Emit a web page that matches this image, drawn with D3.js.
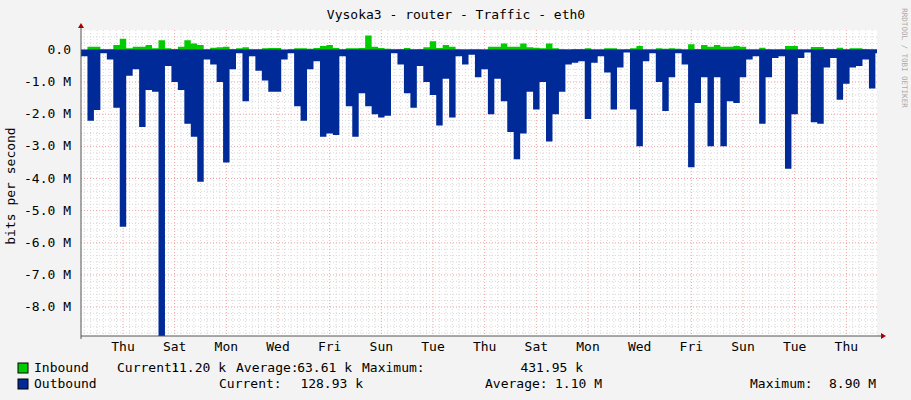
<!DOCTYPE html>
<html><head><meta charset="utf-8">
<script src="https://cdn.jsdelivr.net/npm/d3@7"></script>
<style>body{margin:0;background:#f3f3f3}svg{display:block;font-family:"DejaVu Sans Mono",monospace}</style>
</head><body><svg id="c" width="911" height="400"></svg>
<script>
// 3-hour bins, values in M bits/s
const inbound = [0,0.1,0.1,0.02,0.02,0.15,0.35,0.05,0.1,0.1,0.15,0.05,0.3,0.05,0.03,0.1,0.3,0.2,0.15,0.02,0.07,0.08,0.1,0.03,0.05,0.08,0.02,0.02,0.05,0.06,0.06,
0,0.02,0.05,0.05,0.04,0.06,0.12,0.15,0.06,0.02,0.05,0.05,0.06,0.45,0.1,0.06,0.04,0.02,0.03,0.06,0.02,0.03,0.08,0.27,0.06,0.15,0.1,0.02,0.01,0.02,0.02,
0.01,0.1,0.1,0.2,0.1,0.1,0.2,0.08,0.07,0.05,0.2,0.05,0.02,0.01,0.03,0.03,0.05,0.01,0.01,0.05,0.05,0.01,0.02,0.05,0.12,0.01,0.01,0.05,0.04,0.05,0.04,
0.01,0.18,0.03,0.15,0.1,0.15,0.1,0.1,0.12,0.1,0.01,0.01,0.07,0.02,0.01,0.02,0.12,0.12,0.01,0.01,0.09,0.09,0.03,0.03,0.07,0.02,0.05,0.05,0.03,0.02,0.02];
const outbound = [-0.2,-2.2,-1.87,-0.1,-0.3,-1.8,-5.5,-0.8,-0.6,-2.4,-1.25,-1.3,-8.9,-0.5,-1.0,-1.25,-2.3,-2.7,-4.1,-0.3,-0.45,-1.0,-3.5,-0.6,-0.1,-1.6,-0.2,-0.65,-0.95,-1.3,-1.3,
-0.3,-0.1,-1.75,-2.2,-0.6,-0.35,-2.7,-2.6,-2.65,-0.2,-1.75,-2.7,-1.35,-1.75,-2.0,-2.1,-2.05,-0.1,-0.45,-1.35,-1.8,-0.5,-1.0,-1.4,-2.35,-0.9,-2.1,-0.2,-0.45,-0.15,-0.85,
-0.6,-2.0,-0.9,-1.6,-2.55,-3.4,-2.6,-1.3,-1.85,-1.0,-2.85,-2.0,-1.3,-0.45,-0.4,-0.35,-2.15,-0.4,-0.2,-0.7,-1.85,-0.55,-0.05,-1.85,-3.0,-0.35,-0.1,-1.0,-1.9,-0.85,-0.1,
-0.45,-3.65,-1.65,-0.85,-3.0,-0.85,-3.0,-1.6,-1.65,-0.85,-0.3,-0.2,-2.3,-0.85,-0.25,-0.2,-3.7,-2.0,-0.25,-0.05,-2.25,-2.3,-0.55,-0.25,-1.55,-1.05,-0.55,-0.5,-0.3,-1.2,-0.1];
const dayLabels = ["Thu","Sat","Mon","Wed","Fri","Sun","Tue","Thu","Sat","Mon","Wed","Fri","Sun","Tue","Thu"];
const firstMidnightHour = 19.5, totalHours = 369.75, binHours = 3;
const yTicks = [0,-1,-2,-3,-4,-5,-6,-7,-8];
const title = "Vysoka3 - router - Traffic - eth0";
const legendRows = [
 {name:"Inbound", color:"#00cc00", items:[["Current:","11.20 k"],["Average:","63.61 k"],["Maximum:","431.95 k"]]},
 {name:"Outbound", color:"#002a97", items:[["Current:","128.93 k"],["Average:","1.10 M"],["Maximum:","8.90 M"]]}
];

const svg = d3.select("#c");
const L=81,R=877,T=30,B=336;
const FS=13;
const x = d3.scaleLinear().domain([0,totalHours]).range([L,R]);
const y = d3.scaleLinear().domain([0.62,-8.9]).range([T,B]);
svg.append("rect").attr("x",L).attr("y",T).attr("width",R-L).attr("height",B-T).attr("fill","#fff");
const g = svg.append("g");
for(let h=firstMidnightHour%binHours; h<=totalHours; h+=binHours){
  const midnight = Math.abs(((h-firstMidnightHour)%24+24)%24)<0.01;
  if(midnight) continue;
  g.append("line").attr("x1",x(h)).attr("x2",x(h)).attr("y1",T).attr("y2",B).attr("stroke","#d8d8d8").attr("stroke-dasharray","1,2");
}
for(let k=1; k<=47; k++){
  const v = 0.6 - 0.2*k;
  if(Math.abs(v-Math.round(v))<0.01) continue;
  g.append("line").attr("x1",L).attr("x2",R).attr("y1",y(v)).attr("y2",y(v)).attr("stroke","#d8d8d8").attr("stroke-dasharray","1,2");
}
yTicks.forEach(v=>g.append("line").attr("x1",L).attr("x2",R).attr("y1",y(v)).attr("y2",y(v)).attr("stroke","#f0a0a0").attr("stroke-dasharray","1,2"));
dayLabels.forEach((d,i)=>{
  const h=firstMidnightHour+24*i;
  g.append("line").attr("x1",x(h)).attr("x2",x(h)).attr("y1",T).attr("y2",B).attr("stroke","#f0a0a0").attr("stroke-dasharray","1,2");
  svg.append("text").attr("x",x(h)).attr("y",351).attr("text-anchor","middle").attr("font-size",FS).attr("fill","#000").text(d);
});
const pts = a => a.map((v,i)=>({h:i*binHours,v})).concat([{h:a.length*binHours,v:a[a.length-1]}]);
const area = d3.area().x(d=>x(Math.min(d.h,totalHours))).y0(y(0)).y1(d=>y(d.v)).curve(d3.curveStepAfter);
svg.append("path").datum(pts(inbound)).attr("d",area).attr("fill","#00cc00");
svg.append("path").datum(pts(outbound)).attr("d",area).attr("fill","#002a97");
svg.append("line").attr("x1",L).attr("x2",R).attr("y1",y(0)+1).attr("y2",y(0)+1).attr("stroke","#002a97").attr("stroke-width",3);
svg.append("line").attr("x1",L).attr("x2",R+7).attr("y1",B).attr("y2",B).attr("stroke","#555");
svg.append("line").attr("x1",L).attr("x2",L).attr("y1",T-4).attr("y2",B+3).attr("stroke","#555");
svg.append("path").attr("d",`M${R+4},${B-3}L${R+9},${B}L${R+4},${B+3}Z`).attr("fill","#a00");
svg.append("path").attr("d",`M${L-3},${T-2}L${L},${T-7}L${L+3},${T-2}Z`).attr("fill","#a00");
yTicks.forEach(v=>svg.append("text").attr("x",71).attr("y",y(v)+4).attr("text-anchor","end").attr("font-size",FS).text(v===0?"0.0":v.toFixed(1)+" M"));
svg.append("text").attr("x",456).attr("y",19).attr("text-anchor","middle").attr("font-size",FS).text(title);
svg.append("text").attr("transform","translate(15,186) rotate(-90)").attr("text-anchor","middle").attr("font-size",FS).text("bits per second");
svg.append("text").attr("transform","translate(902,58) rotate(90)").attr("text-anchor","middle").attr("font-size",7.5).attr("fill","#aaa").text("RRDTOOL / TOBI OETIKER");
const pos=[[[117,226],[236,352],[362,583]],[[219,363],[485,602],[750,876]]];
legendRows.forEach((r,i)=>{
  const yy=372+16*i;
  svg.append("rect").attr("x",18).attr("y",yy-9).attr("width",10).attr("height",10).attr("fill",r.color).attr("stroke","#000");
  svg.append("text").attr("x",34).attr("y",yy).attr("font-size",FS).text(r.name);
  r.items.forEach((it,j)=>{
    svg.append("text").attr("x",pos[i][j][0]).attr("y",yy).attr("font-size",FS).text(it[0]);
    svg.append("text").attr("x",pos[i][j][1]).attr("y",yy).attr("text-anchor","end").attr("font-size",FS).text(it[1]);
  });
});
</script></body></html>
